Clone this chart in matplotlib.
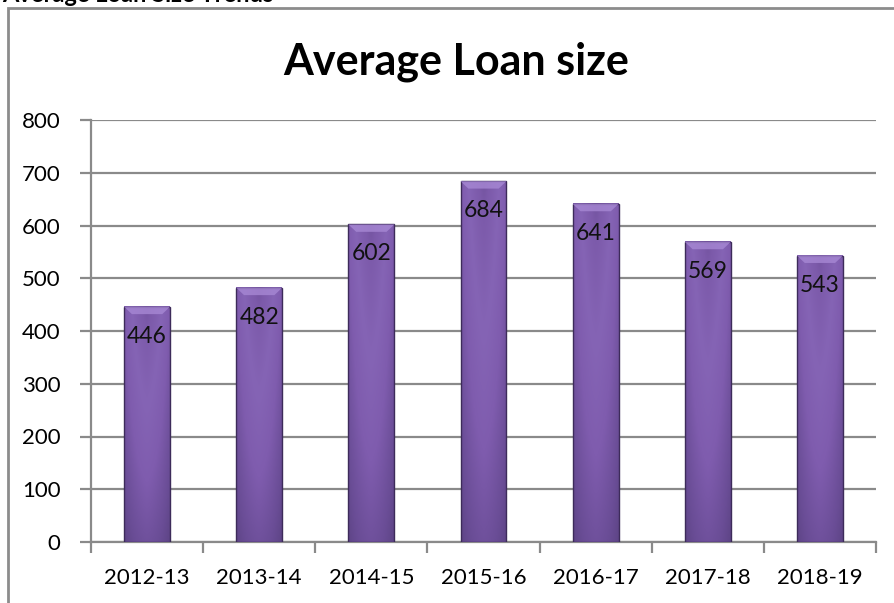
import numpy as np
import matplotlib.pyplot as plt
from matplotlib.patches import Rectangle, Polygon
from matplotlib.colors import LinearSegmentedColormap

plt.rcParams['font.family'] = ['Lato', 'DejaVu Sans']

years = ['2012-13', '2013-14', '2014-15', '2015-16', '2016-17', '2017-18', '2018-19']
avg_loan = [446, 482, 602, 684, 641, 569, 543]

fig = plt.figure(figsize=(8.94, 6.03), dpi=100)
W, H = 894, 603

# chart frame running off the right and bottom edges
fig.patches.append(Rectangle((8 / W, -0.1), 1.2, (H - 8) / H + 0.1,
                             transform=fig.transFigure, fill=False,
                             edgecolor='#8c8c8c', linewidth=2.0))
# heading of the page above the chart, cut off by the top edge
fig.text(2 / W, 1 - 2 / H, 'Average Loan Size Trends', fontsize=17,
         fontweight='bold', va='baseline', ha='left')

ax = fig.add_axes([91 / W, (H - 542) / H, (876 - 91) / W, (542 - 120) / H])
fig.text(456 / W, 1 - 62 / H, 'Average Loan size', fontsize=31,
         fontweight='bold', ha='center', va='center')

x = np.arange(len(years))
bw = 0.41

# purple bar shading: lighter in the middle and towards the top
cmap = LinearSegmentedColormap.from_list('bar', ['#4f3a73', '#6a4d96', '#7f5cae', '#8564b5', '#7c5aaa', '#5e4487'])
hx = np.linspace(0, 1, 60)
across = 1 - 0.55 * np.abs(hx - 0.5) ** 1.5 * 2.8
for xi, v in zip(x, avg_loan):
    vy = np.linspace(0, 1, 120)[:, None]
    shade = (0.25 + 0.6 * vy) * across[None, :]
    ax.imshow(shade, extent=(xi - bw / 2, xi + bw / 2, 0, v), origin='lower',
              cmap=cmap, vmin=0, vmax=1, aspect='auto', zorder=3,
              interpolation='bilinear')
    ax.add_patch(Rectangle((xi - bw / 2, 0), bw, v, fill=False,
                           edgecolor='#3d2b5a', linewidth=1.0, zorder=4))
    # light bevel along the top
    ax.add_patch(Polygon([(xi - bw / 2, v), (xi + bw / 2, v),
                          (xi + bw / 2 - 0.07, v - 14), (xi - bw / 2 + 0.07, v - 14)],
                         closed=True, facecolor='#a788d4', edgecolor='none',
                         alpha=0.8, zorder=4))
    ax.text(xi, v - 36, str(v), ha='center', va='top', fontsize=16.5,
            color='#111111', zorder=5)

ax.set_xlim(-0.5, len(years) - 0.5)
ax.set_ylim(0, 800)
ax.set_yticks(range(0, 801, 100))
ax.set_xticks(x)
ax.set_xticklabels(years)
ax.set_xticks(np.arange(-0.5, len(years), 1), minor=True)
ax.grid(axis='y', color='#8a8a8a', linewidth=1.6, zorder=0)
ax.set_axisbelow(True)

for s in ['top', 'right']:
    ax.spines[s].set_visible(False)
for s in ['left', 'bottom']:
    ax.spines[s].set_color('#8a8a8a')
    ax.spines[s].set_linewidth(1.6)

ax.tick_params(axis='y', length=8, width=1.6, color='#8a8a8a', labelsize=16,
               pad=14)
ax.tick_params(axis='x', which='major', length=0, labelsize=16, pad=19)
ax.tick_params(axis='x', which='minor', length=8, width=1.6, color='#8a8a8a')

fig.savefig('out.png', dpi=100)
